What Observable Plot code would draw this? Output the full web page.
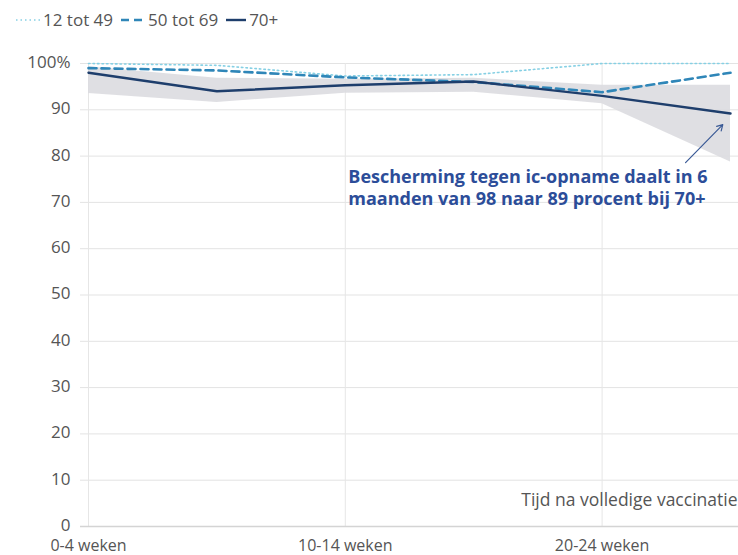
<!DOCTYPE html>
<html>
<head>
<meta charset="utf-8">
<script src="https://cdn.jsdelivr.net/npm/d3@7"></script>
<script src="https://cdn.jsdelivr.net/npm/@observablehq/plot@0.6"></script>
<style>
  body { margin: 0; background: #fff; font-family: "Open Sans", Lato, sans-serif; }
  #legend { height: 40px; display: flex; align-items: center; padding-left: 16px; font-size: 17px; color: #555; box-sizing: border-box; padding-bottom: 1px; }
  #legend .item { display: flex; align-items: center; margin-right: 8px; }
  #legend svg { margin-right: 3px; }
</style>
</head>
<body>
<div id="legend"></div>
<div id="chart"></div>
<script>
// Categories (time since full vaccination)
const categories = ["0-4 weken", "5-9 weken", "10-14 weken", "15-19 weken", "20-24 weken", "25-29 weken"];
const tickLabels = ["0-4 weken", "10-14 weken", "20-24 weken"];
const yTicks = [0, 10, 20, 30, 40, 50, 60, 70, 80, 90, 100];

// Series values (% protection against IC admission)
const series = ["12 tot 49", "50 tot 69", "70+"];
const age12to49 = [100, 99.6, 97.3, 97.6, 100, 100];
const age50to69 = [99.0, 98.5, 97.0, 96.0, 93.8, 98.0];
const age70plus = [98.0, 94.0, 95.3, 96.1, 93.0, 89.2];
const ci70Low  = [93.5, 91.6, 93.6, 93.8, 91.3, 78.7];
const ci70High = [99.3, 96.8, 96.6, 96.8, 95.3, 95.3];

// Annotation
const noteText = "Bescherming tegen ic-opname daalt in 6\nmaanden van 98 naar 89 procent bij 70+";
const noteX = 2;
const noteY = 73.4;
const arrowFrom = [4.65, 78.6];
const arrowTo = [4.94, 86.8];
const axisTitle = "Tijd na volledige vaccinatie";

const colors = { "12 tot 49": "#86d0e4", "50 tot 69": "#2f86b8", "70+": "#1e3e6c" };
const dashes = { "12 tot 49": "1.5,3", "50 tot 69": "8,5", "70+": null };
const widths = { "12 tot 49": 1.6, "50 tot 69": 2.6, "70+": 2.4 };

const rows = [];
[age12to49, age50to69, age70plus].forEach((vals, s) => {
  vals.forEach((v, i) => rows.push({ series: series[s], i, v }));
});
const band = categories.map((c, i) => ({ i, lo: ci70Low[i], hi: ci70High[i] }));

// Legend
const legend = document.getElementById("legend");
series.forEach(s => {
  const item = document.createElement("div");
  item.className = "item";
  const w = s === "70+" ? 20 : 24;
  item.innerHTML = `<svg width="${w}" height="10"><line x1="0" x2="${w}" y1="5" y2="5" stroke="${colors[s]}" stroke-width="${widths[s]}" ${dashes[s] ? `stroke-dasharray="${dashes[s]}"` : ""}/></svg><span>${s}</span>`;
  legend.appendChild(item);
});

const lineMark = s => Plot.lineY(rows.filter(d => d.series === s), {
  x: "i", y: "v", stroke: colors[s], strokeWidth: widths[s],
  strokeDasharray: dashes[s] || undefined
});

const font = "'Open Sans', Lato, sans-serif";

const chart = Plot.plot({
  width: 738,
  height: 515,
  marginTop: 23,
  marginBottom: 29,
  marginLeft: 88,
  marginRight: 8,
  style: { fontFamily: font, fontSize: "17px", color: "#555", background: "#fff" },
  x: { type: "linear", domain: [0, categories.length - 1] },
  y: { domain: [0, 100] },
  marks: [
    Plot.ruleY(yTicks, { stroke: "#e3e3e3", strokeWidth: 1, insetLeft: -8, insetRight: -8 }),
    Plot.ruleX([0, 2, 4], { stroke: "#e6e6e6", strokeWidth: 1 }),
    Plot.ruleY([0], { stroke: "#d4d4d4", strokeWidth: 1.5, insetLeft: -8, insetRight: -8 }),
    Plot.areaY(band, { x: "i", y1: "lo", y2: "hi", fill: "#dcdce0", fillOpacity: 0.9 }),
    lineMark("12 tot 49"),
    lineMark("50 tot 69"),
    lineMark("70+"),
    Plot.axisY({ ticks: yTicks, tickSize: 0, tickPadding: 18, tickFormat: d => d === 100 ? "100%" : String(d), fill: "#555", fontSize: 17, dy: -1 }),
    Plot.axisX({ ticks: [0, 2, 4], tickSize: 0, tickPadding: 13, tickFormat: i => tickLabels[i / 2], fill: "#555", fontSize: 16, label: null }),
    Plot.text([axisTitle], { frameAnchor: "bottom-right", dx: 7, dy: -21, textAnchor: "end", fill: "#555", fontSize: 17.5 }),
    Plot.text([noteText], { x: noteX, y: noteY, dx: 3, textAnchor: "start", lineAnchor: "middle", lineHeight: 1.24, fill: "#2c4d99", fontWeight: "bold", fontSize: 18 }),
    Plot.arrow([0], { x1: arrowFrom[0], y1: arrowFrom[1], x2: arrowTo[0], y2: arrowTo[1], stroke: "#3a5a96", strokeWidth: 1.2, headLength: 8, bend: 0 })
  ]
});
document.getElementById("chart").appendChild(chart);
</script>
</body>
</html>
